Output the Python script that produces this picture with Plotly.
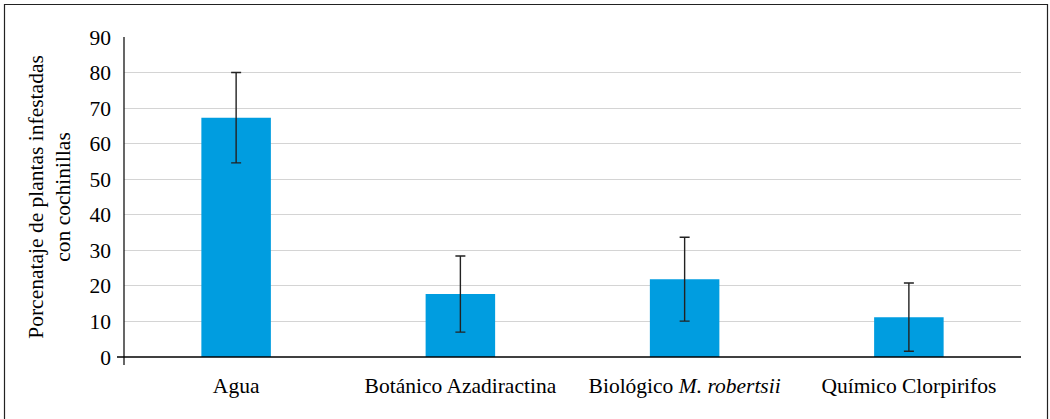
import plotly.graph_objects as go

# Treatments and mean infestation (%) with their error values
categories = ["Agua", "Botánico Azadiractina", "Biológico <i>M. robertsii</i>", "Químico Clorpirifos"]
means = [67.3, 17.7, 21.9, 11.2]
errors = [12.7, 10.7, 11.8, 9.6]
y_ticks = [0, 10, 20, 30, 40, 50, 60, 70, 80, 90]

W, H = 1050, 419
L, R, T, B = 124, 1021, 37, 357  # plot area in pixels


def px_x(px):
    return (px - L) / (R - L)


def px_y(py):
    return (B - py) / (B - T)


font = dict(family="Liberation Serif", size=21.5, color="#000000")

fig = go.Figure(
    go.Bar(
        x=categories,
        y=means,
        marker=dict(color="#009de0", line=dict(width=0)),
        width=0.31,
        error_y=dict(type="data", array=errors, visible=True,
                     color="#222222", thickness=1.4, width=5),
    )
)

fig.update_layout(
    width=W, height=H,
    margin=dict(l=L, r=W - R, t=T, b=H - B),
    paper_bgcolor="white", plot_bgcolor="white",
    font=font,
    showlegend=False,
    xaxis=dict(showline=False, showgrid=False, ticks="", tickfont=font,
               range=[-0.5, 3.5], ticklabelstandoff=13),
    yaxis=dict(range=[0, 90], tickvals=y_ticks, ticks="", showline=False,
               gridcolor="#d4d4d4", gridwidth=1.2, zeroline=False,
               tickfont=font, ticklabelstandoff=12,
               title=dict(text="Porcenataje de plantas infestadas<br>con cochinillas",
                          font=font, standoff=12)),
    shapes=[
        # y axis line, running slightly below zero
        dict(type="line", xref="paper", yref="paper", x0=0, x1=0,
             y0=px_y(365), y1=1, line=dict(color="black", width=1.2)),
        # x axis line, running slightly left of the y axis
        dict(type="line", xref="paper", yref="paper", x0=px_x(117), x1=1,
             y0=0, y1=0, line=dict(color="black", width=1.5)),
        # outer frame
        dict(type="rect", xref="paper", yref="paper",
             x0=px_x(4.5), x1=px_x(1047.5), y0=px_y(420), y1=px_y(4.5),
             line=dict(color="#222222", width=1.2), fillcolor="rgba(0,0,0,0)"),
    ],
)

fig.write_html("out.html")
